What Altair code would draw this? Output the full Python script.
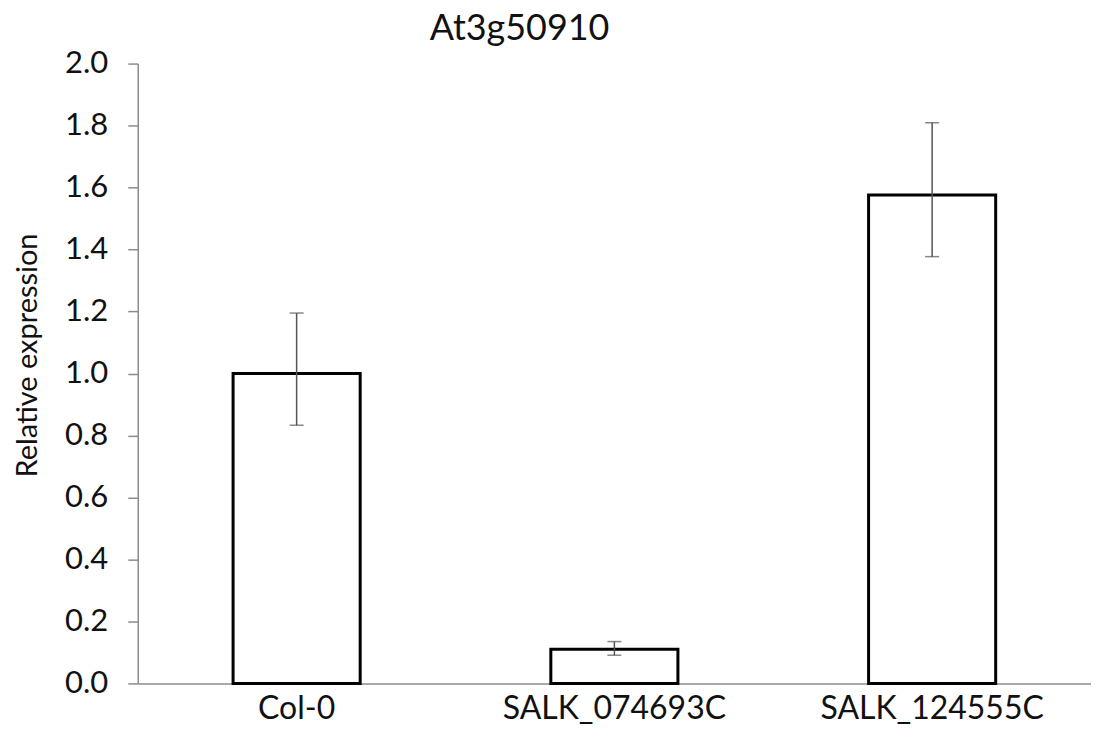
import altair as alt
import pandas as pd

categories = ["Col-0", "SALK_074693C", "SALK_124555C"]
values = [1.0, 0.11, 1.576]
err_low = [0.833, 0.091, 1.377]
err_high = [1.195, 0.135, 1.809]
y_ticks = [0.0, 0.2, 0.4, 0.6, 0.8, 1.0, 1.2, 1.4, 1.6, 1.8, 2.0]

df = pd.DataFrame({"cat": categories, "val": values, "lo": err_low, "hi": err_high})

FONT = "Lato"
AXIS_COLOR = "#8c8c8c"

x = alt.X("cat:N", sort=categories, title=None,
          scale=alt.Scale(paddingInner=0.6, paddingOuter=0.3),
          axis=alt.Axis(labelAngle=0, labelFontSize=32, labelFont=FONT, labelColor="#111",
                        labelLimit=0, labelPadding=10, ticks=False, domainColor=AXIS_COLOR,
                        domainWidth=1.5))
y_scale = alt.Scale(domain=[0, 2.0], nice=False)

base = alt.Chart(df)

bars = base.mark_bar(fill="white", stroke="black", strokeWidth=3).encode(
    x=x,
    y=alt.Y("val:Q", scale=y_scale, title="Relative expression",
            axis=alt.Axis(values=y_ticks, format=".1f", grid=False, labelFontSize=31,
                          labelFont=FONT, labelColor="#111", labelPadding=20, tickSize=10,
                          tickColor=AXIS_COLOR, tickWidth=1.5, domainColor=AXIS_COLOR,
                          domainWidth=1.5, titleFont=FONT, titleFontSize=29,
                          titleFontWeight="normal", titleColor="#111", titlePadding=22,
                          titleY=292)),
)

rules = base.mark_rule(color="#555555", strokeWidth=1.5).encode(
    x=alt.X("cat:N", sort=categories), y=alt.Y("lo:Q", scale=y_scale), y2="hi:Q")

caps_hi = base.mark_tick(color="#555555", thickness=1.5, size=14).encode(
    x=alt.X("cat:N", sort=categories), y=alt.Y("hi:Q", scale=y_scale))
caps_lo = base.mark_tick(color="#555555", thickness=1.5, size=14).encode(
    x=alt.X("cat:N", sort=categories), y=alt.Y("lo:Q", scale=y_scale))

chart = alt.layer(bars, rules, caps_hi, caps_lo).properties(
    width=955, height=621,
    autosize=alt.AutoSizeParams(type="none"),
    padding={"left": 130, "top": 55, "right": 0, "bottom": 50},
    title=alt.TitleParams("At3g50910", font=FONT, fontSize=36, fontWeight="normal",
                          color="#111", anchor="middle", dx=-95, offset=0),
).configure_view(stroke=None)

chart.save("out.html", embed_options={"renderer": "svg", "actions": False})
